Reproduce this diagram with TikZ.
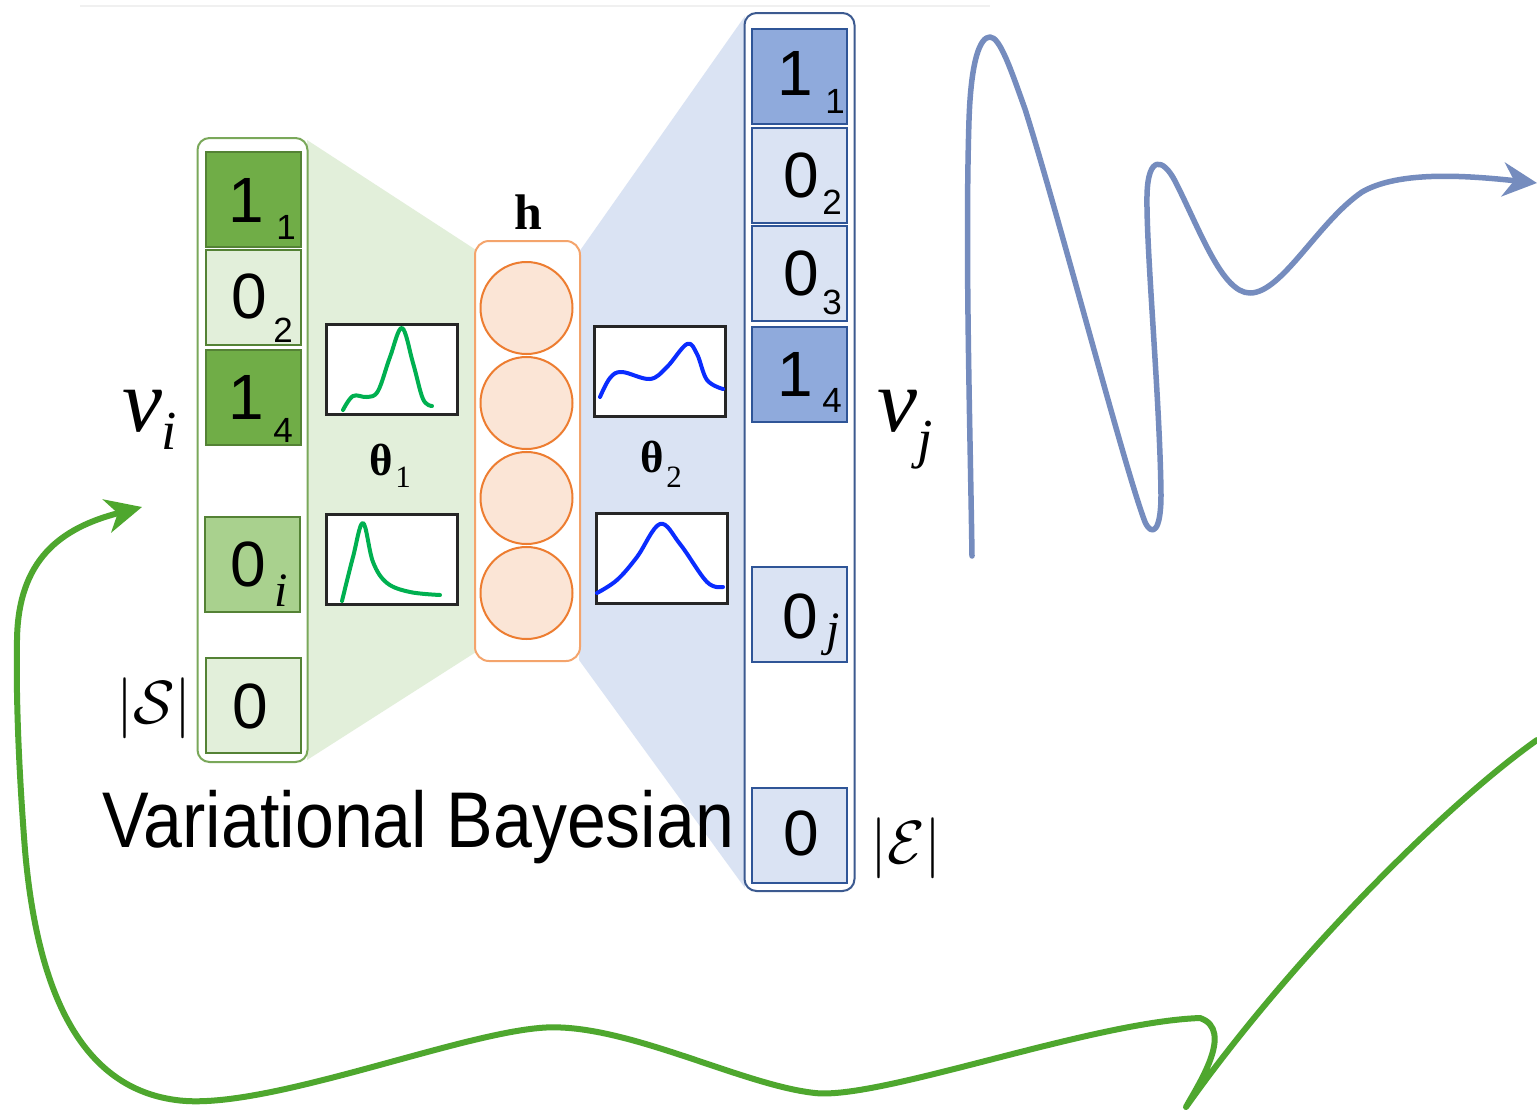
\documentclass[tikz,border=0pt]{standalone}
\usepackage{fontspec}
\setmainfont{Liberation Serif}
\newfontfamily\sansf{Liberation Sans}
\usetikzlibrary{arrows.meta}
\definecolor{gdark}{HTML}{70AD47}
\definecolor{glight}{HTML}{E2EFDA}
\definecolor{gmid}{HTML}{A9D18E}
\definecolor{gline}{HTML}{548235}
\definecolor{gouter}{HTML}{7AA85A}
\definecolor{bdark}{HTML}{8FAADC}
\definecolor{blight}{HTML}{DAE3F3}
\definecolor{bline}{HTML}{2F5597}
\definecolor{bouter}{HTML}{3C5A90}
\definecolor{ofill}{HTML}{FBE5D6}
\definecolor{oline}{HTML}{ED7D31}
\definecolor{obox}{HTML}{F4A46C}
\definecolor{curveblue}{HTML}{758CBE}
\definecolor{curvegreen}{HTML}{4EA72E}
\definecolor{plotgreen}{HTML}{00B050}
\definecolor{plotblue}{HTML}{0A2CFF}
\begin{document}
\begin{tikzpicture}[x=1pt,y=-1pt,
  cellbox/.style={draw, line width=2pt, minimum width=95pt, minimum height=95pt, inner sep=0pt},
  dig/.style={font=\sansf\fontsize{64}{64}\selectfont, inner sep=0pt},
  subdig/.style={font=\sansf\fontsize{35}{35}\selectfont, inner sep=0pt},
  subit/.style={font=\fontsize{48}{48}\selectfont\itshape, inner sep=0pt},
  plotbox/.style={draw=black!85, line width=3pt, fill=white, minimum width=131pt, minimum height=90pt, inner sep=0pt},
  plotline/.style={line width=4pt, line cap=round, line join=round},
  outerbox/.style={line width=2pt, rounded corners=12pt, fill=white, minimum width=110pt, inner sep=0pt},
  hcircle/.style={circle, draw=oline, fill=ofill, line width=2pt, minimum size=92pt, inner sep=0pt},
  thetafont/.style={font=\bfseries\fontsize{45}{45}\selectfont, inner sep=0pt},
  thetasub/.style={font=\fontsize{31}{31}\selectfont, inner sep=0pt},
  vfont/.style={font=\fontsize{90}{90}\selectfont\itshape, inner sep=0pt},
  vsub/.style={font=\fontsize{55}{55}\selectfont\itshape, inner sep=0pt},
  setlabel/.style={font=\Huge, scale=2.45, inner sep=0pt},
  flowcurve/.style={line width=5.5pt, line cap=round, line join=round}
]
\useasboundingbox (0,0) rectangle (1537,1117);
\fill[white] (0,0) rectangle (1537,1117);
\draw[black!6, line width=1.5pt] (80,6) -- (990,6);

% projection shading
\fill[glight] (307,140) -- (476,250) -- (476,652) -- (307,760) -- cycle;
\fill[blight] (579,252) -- (745,16) -- (745,888) -- (579,660) -- cycle;

% outer vector boxes
\node[outerbox, draw=gouter, minimum height=624pt] (vi) at (252.5,450) {};
\node[outerbox, draw=bouter, minimum height=878pt] (vj) at (799.5,452) {};

% green cells
\node[cellbox, draw=gline, fill=gdark] (g1) at (253,199.5) {};
\node[cellbox, draw=gline, fill=glight] (g2) at (253,297.5) {};
\node[cellbox, draw=gline, fill=gdark] (g3) at (253,397.5) {};
\node[cellbox, draw=gline, fill=gmid] (g4) at (252,564.5) {};
\node[cellbox, draw=gline, fill=glight] (g5) at (253,705.5) {};

\node[dig] (g1d) at (246,200) {1};
\node[subdig] (g1s) at (286,227) {1};
\node[dig] (g2d) at (249,296) {0};
\node[subdig] (g2s) at (283,330) {2};
\node[dig] (g3d) at (246,397) {1};
\node[subdig] (g3s) at (283,430) {4};
\node[dig] (g4d) at (248,564) {0};
\node[subit] (g4s) at (281,591) {i};
\node[dig] (g5d) at (250,706) {0};

% blue cells
\node[cellbox, draw=bline, fill=bdark] (b1) at (799,76) {};
\node[cellbox, draw=bline, fill=blight] (b2) at (799,175) {};
\node[cellbox, draw=bline, fill=blight] (b3) at (799,273.5) {};
\node[cellbox, draw=bline, fill=bdark] (b4) at (799,374.5) {};
\node[cellbox, draw=bline, fill=blight] (b5) at (799,614) {};
\node[cellbox, draw=bline, fill=blight] (b6) at (799,835.5) {};

\node[dig] (b1d) at (795,73) {1};
\node[subdig] (b1s) at (835,101) {1};
\node[dig] (b2d) at (801,175) {0};
\node[subdig] (b2s) at (832,202) {2};
\node[dig] (b3d) at (801,273) {0};
\node[subdig] (b3s) at (832,302) {3};
\node[dig] (b4d) at (795,374) {1};
\node[subdig] (b4s) at (832,400) {4};
\node[dig] (b5d) at (800,616) {0};
\node[subit] (b5s) at (833,635) {j};
\node[dig] (b6d) at (801,833) {0};

% hidden layer
\node[draw=obox, line width=2pt, rounded corners=14pt, fill=white, minimum width=105pt, minimum height=420pt, inner sep=0pt] (hbox) at (527.5,451) {};
\node[hcircle] (h1) at (526.5,308) {};
\node[hcircle] (h2) at (526.5,403) {};
\node[hcircle] (h3) at (526.5,498) {};
\node[hcircle] (h4) at (526.5,593) {};
\node[font=\bfseries\fontsize{50}{50}\selectfont, inner sep=0pt] (hlab) at (528,212) {h};

% distribution plots
\node[plotbox] (p1) at (391.5,369) {};
\node[plotbox] (p2) at (391.5,559.5) {};
\node[plotbox] (p3) at (660,371) {};
\node[plotbox] (p4) at (661.5,558) {};

\draw[plotline, plotgreen] plot[smooth, tension=0.6] coordinates
  {(343,410) (353,396) (367,397) (378,391) (390,357) (402,328) (413,363) (423,399) (432,406)};
\draw[plotline, plotgreen] plot[smooth, tension=0.6] coordinates
  {(342,601) (353,557) (363,523) (373,562) (387,583) (410,592) (440,595)};
\draw[plotline, plotblue] plot[smooth, tension=0.6] coordinates
  {(600,397) (610,378) (622,372) (650,379) (667,367) (687,344) (697,354) (707,380) (723,389)};
\draw[plotline, plotblue] plot[smooth, tension=0.6] coordinates
  {(597,593) (617,580) (637,557) (660,524) (680,544) (707,582) (723,587)};

% theta labels
\node[thetafont] (t1) at (381,460) {θ};
\node[thetasub] (t1s) at (403,477) {1};
\node[thetafont] (t2) at (652,457) {θ};
\node[thetasub] (t2s) at (674,477) {2};

% vector labels
\node[vfont] (vil) at (142,411) {v};
\node[vsub] (vis) at (169,431) {i};
\node[vfont] (vjl) at (897,411) {v};
\node[vsub] (vjs) at (925,445) {j};
\node[setlabel] (slab) at (154,708) {$|\mathcal{S}|$};
\node[setlabel] (elab) at (906,848) {$|\mathcal{E}|$};

% caption
\node[font=\sansf\fontsize{79}{79}\selectfont, xscale=0.885, anchor=base west, inner sep=0pt] (cap) at (102,847) {Variational Bayesian};

% flow curves
\coordinate (bstart) at (972,556);
\coordinate (bend) at (1537,183);
\draw[flowcurve, curveblue, -{Stealth[length=34pt, width=34pt, inset=11pt]}] (bstart)
  .. controls (970,420) and (965,250) .. (969,120)
  .. controls (971,60) and (980,37) .. (990,37)
  .. controls (1000,37) and (1011,70) .. (1025,109)
  .. controls (1060,220) and (1125,470) .. (1145,522)
  .. controls (1152,537) and (1161,532) .. (1161,495)
  .. controls (1160,400) and (1146,250) .. (1147,195)
  .. controls (1148,155) and (1163,158) .. (1175,181)
  .. controls (1200,230) and (1222,293) .. (1250,293)
  .. controls (1282,293) and (1318,222) .. (1362,192)
  .. controls (1400,170) and (1470,176) .. (bend);

\coordinate (gstart) at (1537,740);
\coordinate (gend) at (142,507);
\draw[flowcurve, curvegreen, line width=6pt, -{Stealth[length=36pt, width=34pt, inset=11pt]}] (gstart)
  .. controls (1445,805) and (1290,960) .. (1186,1107)
  .. controls (1198,1085) and (1235,1030) .. (1200,1018)
  .. controls (1090,1022) and (880,1100) .. (815,1093)
  .. controls (740,1085) and (620,1020) .. (539,1028)
  .. controls (450,1036) and (260,1112) .. (176,1100)
  .. controls (85,1088) and (38,1000) .. (25,850)
  .. controls (18,760) and (16,690) .. (17,640)
  .. controls (18,560) and (60,528) .. (gend);
\end{tikzpicture}
\end{document}
